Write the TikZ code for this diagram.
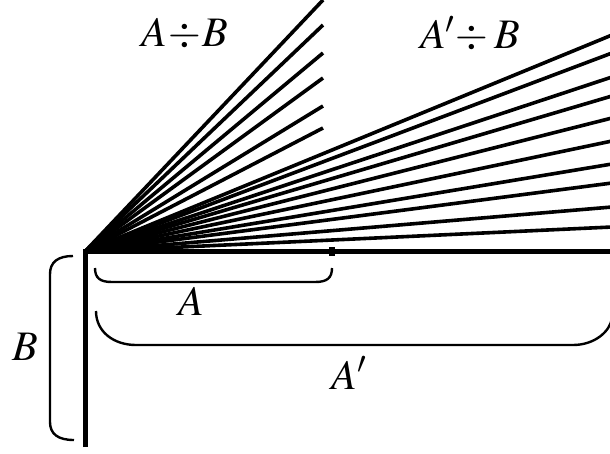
\documentclass[tikz,border=0pt]{standalone}
\usepackage{mathptmx}
\tikzset{x=1pt, y=-1pt,
    fan/.style={line width=3.6pt},
    axis/.style={line width=5pt},
    brace/.style={line width=2.4pt},
    lbl/.style={inner sep=0pt, font=\fontsize{42}{46}\selectfont}}

\begin{document}
\begin{tikzpicture}
    \useasboundingbox (0,0) rectangle (610,453);
    \clip (0,0) rectangle (610,453);
    \coordinate (O) at (85,251.5);
    % short rays
    \foreach \y in {0,25,53,78,106,128}
        \draw[fan] (O) -- (323,\y);
    % long rays
    \foreach \y in {35,53,77,96,118,141,164,183,207,227}
        \draw[fan] (O) -- (612,\y);
    \draw[axis] (85,447) -- (O) -- (612,251.5);
    \fill (329,247) rectangle (335,256);
    % brackets
    \draw[brace] (95,268) .. controls (95,278) and (100,282) .. (112,282)
        -- (315,282) .. controls (327,282) and (332,278) .. (332,268);
    \draw[brace] (96,311) .. controls (96,332) and (114,345) .. (136,345)
        -- (573,345) .. controls (594,345) and (610,332) .. (612,318);
    \draw[brace] (73,256) .. controls (58,256) and (50,262) .. (50,274)
        -- (50,422) .. controls (50,434) and (58,440) .. (74,440);
    \node[lbl] (AB) at (185,34) {$A\!\div\! B$};
    \node[lbl] (ApB) at (470,34) {$A'\!\div B$};
    \node[lbl] (A) at (191,301) {$A$};
    \node[lbl] (Ap) at (349,373) {$A'$};
    \node[lbl] (B) at (25,347) {$B$};
\end{tikzpicture}
\end{document}
